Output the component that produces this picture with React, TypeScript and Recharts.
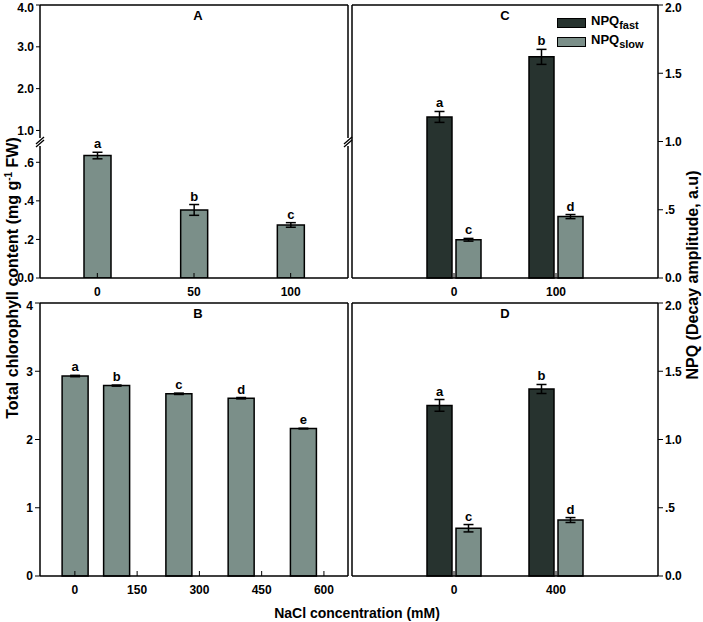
import React from 'react';
import {
  ComposedChart,
  Bar,
  XAxis,
  YAxis,
  ErrorBar,
  LabelList,
  Legend,
  Label,
} from 'recharts';

// Panel A: 0-100 mM
const aConc = ['0', '50', '100'];
const aChl = [0.635, 0.353, 0.275];
const aErr = [0.017, 0.028, 0.012];
const aLetters = ['a', 'b', 'c'];
const aUpperTicks = [1, 2, 3, 4];
const aLowerTicks = [0, 0.2, 0.4, 0.6];

// Panel B: 0-600 mM
const bConc = [0, 100, 250, 400, 550];
const bChl = [2.93, 2.79, 2.67, 2.605, 2.16];
const bErr = [0.01, 0.008, 0.01, 0.01, 0.005];
const bLetters = ['a', 'b', 'c', 'd', 'e'];
const bXTicks = [0, 150, 300, 450, 600];
const bYTicks = [0, 1, 2, 3, 4];

// Panel C: NPQ fast / slow
const cConc = ['0', '100'];
const cFast = [1.18, 1.62];
const cFastErr = [0.04, 0.055];
const cFastLetters = ['a', 'b'];
const cSlow = [0.28, 0.45];
const cSlowErr = [0.01, 0.015];
const cSlowLetters = ['c', 'd'];

// Panel D
const dConc = ['0', '400'];
const dFast = [1.25, 1.37];
const dFastErr = [0.043, 0.033];
const dFastLetters = ['a', 'b'];
const dSlow = [0.35, 0.41];
const dSlowErr = [0.027, 0.018];
const dSlowLetters = ['c', 'd'];

const npqTicks = [0, 0.5, 1, 1.5, 2];

const aData = aConc.map((c, i) => ({ conc: c, chl: aChl[i], err: aErr[i], letter: aLetters[i] }));
const bData = bConc.map((c, i) => ({ conc: c, chl: bChl[i], err: bErr[i], letter: bLetters[i] }));
const cData = cConc.map((c, i) => ({
  conc: c,
  fast: cFast[i], fastErr: cFastErr[i], fastLetter: cFastLetters[i],
  slow: cSlow[i], slowErr: cSlowErr[i], slowLetter: cSlowLetters[i],
}));
const dData = dConc.map((c, i) => ({
  conc: c,
  fast: dFast[i], fastErr: dFastErr[i], fastLetter: dFastLetters[i],
  slow: dSlow[i], slowErr: dSlowErr[i], slowLetter: dSlowLetters[i],
}));

const FONT = 'Arial, "Liberation Sans", Helvetica, sans-serif';
const DARK = '#27332f';
const LIGHT = '#7b8f89';
const axisLine = { stroke: '#000', strokeWidth: 1.5 };
const tickLine = { stroke: '#000', strokeWidth: 1 };
const tickStyle = { fontSize: 12, fontWeight: 700, fill: '#000', fontFamily: FONT };
const titleStyle = { fontSize: 13, fontWeight: 700, fill: '#000', fontFamily: FONT };

const fmt = (v: number) => {
  if (v === 0) return '0.0';
  if (v < 1) return String(v).replace(/^0/, '');
  return v.toFixed(1);
};

// letter above each error bar; px per unit taken from the drawn bar itself
const letterLabel = (vals: number[], errs: number[]) => (props: any) => {
  const vb = props.viewBox || props;
  const i = props.index;
  if (vb == null || i == null) return null;
  const errPx = vals[i] ? (errs[i] * vb.height) / vals[i] : 0;
  return (
    <text
      x={vb.x + vb.width / 2}
      y={vb.y - errPx - 4}
      textAnchor="middle"
      fontSize={13}
      fontWeight={700}
      fontFamily={FONT}
      fill="#000"
    >
      {props.value}
    </text>
  );
};

const renderLegend = (props: any) => (
  <div style={{ fontFamily: FONT, fontWeight: 700, fontSize: 13, color: '#000' }}>
    {(props.payload || []).map((p: any) => (
      <div key={p.value} style={{ display: 'flex', alignItems: 'center', height: 19, lineHeight: 1 }}>
        <span
          style={{
            display: 'inline-block',
            width: 27,
            height: 8,
            background: p.color,
            border: '1px solid #000',
            marginRight: 5,
          }}
        />
        <span>
          NPQ<sub style={{ fontSize: 11, verticalAlign: -4 }}>{p.value}</sub>
        </span>
      </div>
    ))}
  </div>
);

const BreakMark = ({ x, y }: { x: number; y: number }) => (
  <g>
    <rect x={x - 3} y={y - 5} width={6} height={8} fill="#fff" />
    <line x1={x - 4} y1={y + 1} x2={x + 4} y2={y - 6} stroke="#000" strokeWidth={1.3} />
    <line x1={x - 4} y1={y + 4} x2={x + 4} y2={y - 3} stroke="#000" strokeWidth={1.3} />
  </g>
);

// frame pieces: thin axes with no ticks (width/height 1 so they get drawn)
const TopBorder = ({ title, dx = 0 }: { title: string; dx?: number }) => (
  <XAxis xAxisId="t" orientation="top" height={1} tick={false} tickLine={false} axisLine={axisLine}>
    {title ? <Label value={title} position="bottom" offset={6} dx={dx} style={titleStyle} /> : null}
  </XAxis>
);

const NpqPanel = ({ data, title, top }: { data: any[]; title: string; top: number }) => (
  <div style={{ position: 'absolute', left: 351, top }}>
    <ComposedChart width={352} height={303} data={data} margin={{ top: 4, right: 0, bottom: 0, left: 0 }} barGap={4}>
      <XAxis
        dataKey="conc"
        padding={{ left: 51, right: 51 }}
        height={25}
        tickSize={-5}
        tickMargin={14}
        tick={tickStyle}
        tickLine={tickLine}
        axisLine={axisLine}
      />
      <XAxis xAxisId="t" orientation="top" height={1} tick={false} tickLine={false} axisLine={axisLine}>
        <Label value={title} position="bottom" offset={6} style={titleStyle} />
      </XAxis>
      <YAxis yAxisId="l" orientation="left" width={1} tick={false} tickLine={false} axisLine={axisLine} />
      <YAxis
        orientation="right"
        domain={[0, 2]}
        ticks={npqTicks}
        width={45}
        tickFormatter={fmt}
        tickSize={5}
        tickMargin={2}
        tick={tickStyle}
        tickLine={tickLine}
        axisLine={axisLine}
      />
      <Bar dataKey="fast" name="fast" barSize={25} fill={DARK} stroke="#000" strokeWidth={1.5} isAnimationActive={false}>
        <ErrorBar dataKey="fastErr" width={5} stroke="#000" strokeWidth={1.5} />
        <LabelList dataKey="fastLetter" content={letterLabel(data.map((r) => r.fast), data.map((r) => r.fastErr))} />
      </Bar>
      <Bar dataKey="slow" name="slow" barSize={25} fill={LIGHT} stroke="#000" strokeWidth={1.5} isAnimationActive={false}>
        <ErrorBar dataKey="slowErr" width={5} stroke="#000" strokeWidth={1.5} />
        <LabelList dataKey="slowLetter" content={letterLabel(data.map((r) => r.slow), data.map((r) => r.slowErr))} />
      </Bar>
      {title === 'C' && (
        <Legend
          content={renderLegend}
          layout="horizontal"
          verticalAlign="middle"
          align="center"
          wrapperStyle={{ left: 206, top: 13, width: 'auto', height: 'auto' }}
        />
      )}
    </ComposedChart>
  </div>
);

export default function App() {
  return (
    <div style={{ position: 'absolute', left: 0, top: 0, width: 703, height: 622, background: '#fff', fontFamily: FONT }}>
      {/* A, upper part of the broken axis */}
      <div style={{ position: 'absolute', left: 0, top: 0 }}>
        <ComposedChart width={349} height={143} data={aData} margin={{ top: 4, right: 0, bottom: 0, left: 0 }}>
          <XAxis dataKey="conc" hide padding={{ left: 9, right: 9 }} />
          <XAxis xAxisId="t" orientation="top" height={1} tick={false} tickLine={false} axisLine={axisLine}>
            <Label value="A" position="bottom" offset={6} dx={4} style={titleStyle} />
          </XAxis>
          <YAxis
            domain={[0.7, 4]}
            ticks={aUpperTicks}
            allowDataOverflow
            width={40}
            tickFormatter={fmt}
            tickSize={4}
            tickMargin={2}
            tick={tickStyle}
            tickLine={tickLine}
            axisLine={axisLine}
          />
          <YAxis yAxisId="r" orientation="right" width={1} tick={false} tickLine={false} axisLine={axisLine} />
        </ComposedChart>
      </div>

      {/* A, lower part */}
      <div style={{ position: 'absolute', left: 0, top: 0 }}>
        <ComposedChart width={349} height={308} data={aData} margin={{ top: 143, right: 0, bottom: 0, left: 0 }}>
          <XAxis
            dataKey="conc"
            padding={{ left: 9, right: 9 }}
            height={30}
            tickSize={-5}
            tickMargin={14}
            tick={tickStyle}
            tickLine={tickLine}
            axisLine={axisLine}
          />
          <YAxis
            domain={[0, 0.7]}
            ticks={aLowerTicks}
            allowDataOverflow
            width={40}
            tickFormatter={fmt}
            tickSize={4}
            tickMargin={2}
            tick={tickStyle}
            tickLine={tickLine}
            axisLine={axisLine}
          />
          <YAxis yAxisId="r" orientation="right" width={1} tick={false} tickLine={false} axisLine={axisLine} />
          <Bar dataKey="chl" barSize={27} fill={LIGHT} stroke="#000" strokeWidth={1.5} isAnimationActive={false}>
            <ErrorBar dataKey="err" width={5} stroke="#000" strokeWidth={1.5} />
            <LabelList dataKey="letter" content={letterLabel(aChl, aErr)} />
          </Bar>
        </ComposedChart>
      </div>

      {/* B */}
      <div style={{ position: 'absolute', left: 0, top: 298 }}>
        <ComposedChart width={349} height={303} data={bData} margin={{ top: 4, right: 0, bottom: 0, left: 0 }}>
          <XAxis
            dataKey="conc"
            type="number"
            domain={[-84, 658]}
            ticks={bXTicks}
            allowDataOverflow
            height={25}
            tickSize={-5}
            tickMargin={14}
            tick={tickStyle}
            tickLine={tickLine}
            axisLine={axisLine}
          />
          <XAxis xAxisId="t" orientation="top" height={1} tick={false} tickLine={false} axisLine={axisLine}>
            <Label value="B" position="bottom" offset={6} dx={4} style={titleStyle} />
          </XAxis>
          <YAxis
            domain={[0, 4]}
            ticks={bYTicks}
            width={40}
            tickSize={5}
            tickMargin={2}
            tick={tickStyle}
            tickLine={tickLine}
            axisLine={axisLine}
          />
          <YAxis yAxisId="r" orientation="right" width={1} tick={false} tickLine={false} axisLine={axisLine} />
          <Bar dataKey="chl" barSize={26} fill={LIGHT} stroke="#000" strokeWidth={1.5} isAnimationActive={false}>
            <ErrorBar dataKey="err" width={5} stroke="#000" strokeWidth={1.5} />
            <LabelList dataKey="letter" content={letterLabel(bChl, bErr)} />
          </Bar>
        </ComposedChart>
      </div>

      <NpqPanel data={cData} title="C" top={0} />
      <NpqPanel data={dData} title="D" top={298} />

      <svg
        width={703}
        height={622}
        style={{ position: 'absolute', left: 0, top: 0, pointerEvents: 'none' }}
        fontFamily={FONT}
        fontWeight={700}
      >
        <BreakMark x={40} y={143} />
        <BreakMark x={348} y={143} />
        <text transform="translate(12,278) rotate(-90)" textAnchor="middle" dy="0.35em" fontSize={16} fill="#000">
          Total chlorophyll content (mg g<tspan dy={-6} fontSize={10}>-1</tspan>
          <tspan dy={6}> FW)</tspan>
        </text>
        <text transform="translate(692,275) rotate(-90)" textAnchor="middle" dy="0.35em" fontSize={16} fill="#000">
          NPQ (Decay amplitude, a.u)
        </text>
        <text x={357} y={613} textAnchor="middle" dy="0.35em" fontSize={14} fill="#000">
          NaCl concentration (mM)
        </text>
      </svg>
    </div>
  );
}
